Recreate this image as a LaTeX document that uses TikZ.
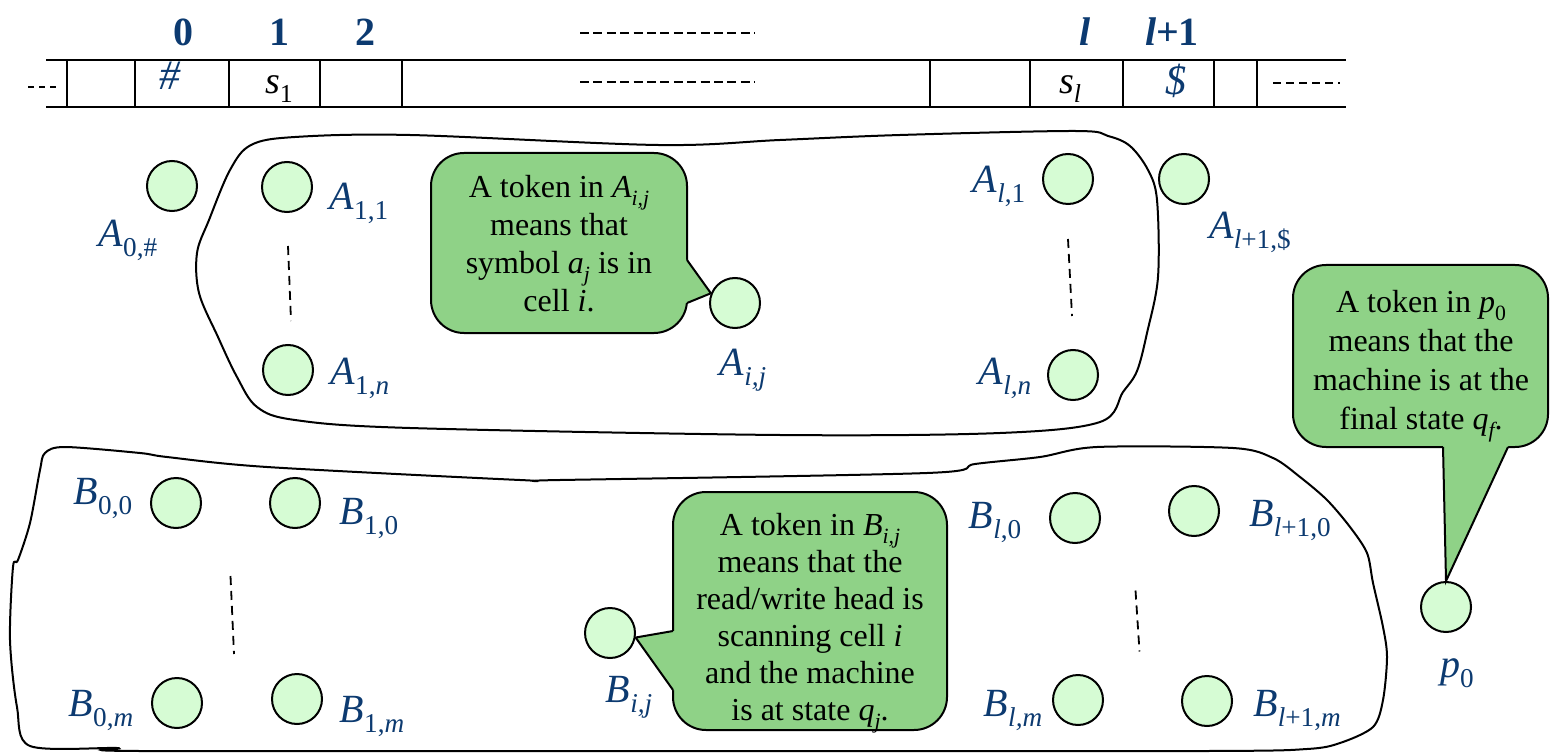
\documentclass[tikz,border=0pt]{standalone}
\usepackage{fontspec}
\setmainfont{Liberation Serif}
\usepackage{graphicx}
\usetikzlibrary{calc}

\definecolor{lblue}{RGB}{12,58,112}
\definecolor{tokfill}{RGB}{214,252,212}
\definecolor{notefill}{RGB}{143,210,135}

% lowered, reduced subscript in text mode
\newcommand{\tsb}[1]{\raisebox{-0.25em}{\scalebox{0.68}{#1}}}

\tikzset{
  tapeline/.style={line width=1.1pt, line cap=rect},
  tapedots/.style={line width=1.1pt, dash pattern=on 4.5pt off 2.2pt},
  tapenum/.style={text=lblue, font=\fontsize{20}{22}\selectfont\bfseries, inner sep=0pt},
  tapesym/.style={font=\fontsize{19}{22}\selectfont, inner sep=0pt},
  place/.style={circle, draw, fill=tokfill, line width=1pt, minimum size=25pt, inner sep=0pt},
  plabel/.style={text=lblue, font=\fontsize{20}{24}\selectfont, inner sep=0pt},
  notetext/.style={align=center, font=\fontsize{16}{19}\selectfont, inner sep=0pt},
  notebox/.style={fill=notefill, draw, line width=1pt, rounded corners=16.5pt},
  noteedge/.style={draw, line width=1pt, line join=miter},
  region/.style={draw, line width=1pt},
  colgap/.style={line width=0.9pt, dash pattern=on 4.5pt off 3pt},
}

\begin{document}
\begin{tikzpicture}[x=0.5pt,y=-0.5pt]
\useasboundingbox (0,0) rectangle (1550,753);

% ---------------- tape ----------------
\draw[tapeline] (47,60) -- (1345,60) (47,107) -- (1345,107);
\foreach \cx in {67,135,229,320,402,930,1030,1123,1214,1257}
  \draw[tapeline] (\cx,60) -- (\cx,107);
\draw[line width=1.1pt, dash pattern=on 3pt off 2.5pt] (28,87) -- (60,87);
\draw[line width=1.1pt, dash pattern=on 4pt off 2.5pt] (1273,83) -- (1340,83);
\draw[tapedots] (580,33) -- (755,33);
\draw[tapedots] (580,82) -- (755,82);

\node[tapenum] (n0) at (183,32) {0};
\node[tapenum] (n1) at (279,32) {1};
\node[tapenum] (n2) at (365,32) {2};
\node[tapenum] (nl) at (1085,32) {\itshape l};
\node[tapenum] (nl1) at (1172,32) {{\itshape l}+1};

\node[tapesym, text=lblue, font=\fontsize{21}{22}\selectfont] (hash) at (170,76) {\itshape \#};
\node[tapesym] (s1) at (279,89) {{\itshape s}\tsb{1}};
\node[tapesym] (sl) at (1070,89) {{\itshape s}\tsb{\itshape l}};
\node[tapesym, text=lblue, font=\fontsize{21}{22}\selectfont] (dollar) at (1176,81) {\itshape \$};

% ---------------- regions ----------------
\draw[region] plot[smooth cycle, tension=0.55] coordinates {
  (251,145) (295,137) (410,135) (658,145) (780,140) (900,135)
  (1075,131) (1108,136) (1130,146) (1148,170) (1157,200)
  (1158,277) (1147,333) (1137,371) (1123,392) (1100,422) (1000,433)
  (780,435) (410,428) (295,420) (257,407) (237,377) (218,337) (199,293)
  (197,253) (209,220) (230,170)};

\draw[region] plot[smooth cycle, tension=0.5] coordinates {
  (45,453) (65,447) (140,453) (167,457) (267,467) (520,480) (560,480)
  (927,473) (975,464) (1040,457) (1097,447) (1233,448)
  (1273,458) (1300,477) (1327,500) (1350,527) (1367,553) (1373,583)
  (1383,627) (1387,657) (1383,700) (1373,727) (1340,743) (1307,749)
  (1207,751) (700,751) (140,751) (117,748) (30,746) (17,707) (10,640)
  (13,567) (18,560) (30,523) (40,470)};

% ---------------- places A ----------------
\node[place] (A0) at (172,186) {};
\node[place] (A11) at (287,187) {};
\node[place] (A1n) at (288,370) {};
\node[place] (Aij) at (735,303) {};
\node[place] (Al1) at (1068,179) {};
\node[place] (Aln) at (1073,375) {};
\node[place] (Alf) at (1184,179) {};

\draw[colgap] ($(A11.south)+(1,33)$) -- ($(A1n.north)+(3,-23)$);
\draw[colgap] ($(Al1.south)+(0,34)$) -- ($(Aln.north)+(-1,-33)$);

\node[plabel] (lA0) at (128,240) {{\itshape A}\tsb{0,\#}};
\node[plabel] (lA11) at (359,203) {{\itshape A}\tsb{1,1}};
\node[plabel] (lA1n) at (360,378) {{\itshape A}\tsb{1,\itshape n}};
\node[plabel] (lAij) at (743,370) {{\itshape A}\tsb{\itshape i,j}};
\node[plabel] (lAl1) at (999,186) {{\itshape A}\tsb{{\itshape l},1}};
\node[plabel] (lAln) at (1005,378) {{\itshape A}\tsb{\itshape l,n}};
\node[plabel] (lAlf) at (1250,232) {{\itshape A}\tsb{{\itshape l}+1,\$}};

% ---------------- places B ----------------
\node[place] (B00) at (176,503) {};
\node[place] (B10) at (295,503) {};
\node[place] (B0m) at (177,703) {};
\node[place] (B1m) at (297,699) {};
\node[place] (Bl0) at (1075,518) {};
\node[place] (Blf0) at (1194,511) {};
\node[place] (Blm) at (1078,700) {};
\node[place] (Blfm) at (1207,701) {};
\node[place] (Bij) at (610,633) {};
\node[place] (p0) at (1446,607) {};

\draw[colgap] ($(B10.south)!0.5!(B00.south)+(-5,47)$) -- ($(B1m.north)!0.5!(B0m.north)+(-3,-21)$);
\draw[colgap] ($(Bl0.south)!0.5!(Blf0.south)+(1,50)$) -- ($(Blm.north)!0.5!(Blfm.north)+(-3,-23)$);

\node[plabel] (lB00) at (103,498) {{\itshape B}\tsb{0,0}};
\node[plabel] (lB10) at (369,518) {{\itshape B}\tsb{1,0}};
\node[plabel] (lB0m) at (101,710) {{\itshape B}\tsb{0,\itshape m}};
\node[plabel] (lB1m) at (372,716) {{\itshape B}\tsb{1,\itshape m}};
\node[plabel] (lBij) at (629,697) {{\itshape B}\tsb{\itshape i,j}};
\node[plabel] (lBl0) at (995,522) {{\itshape B}\tsb{{\itshape l},0}};
\node[plabel] (lBlf0) at (1290,520) {{\itshape B}\tsb{{\itshape l}+1,0}};
\node[plabel] (lBlm) at (1013,710) {{\itshape B}\tsb{\itshape l,m}};
\node[plabel] (lBlfm) at (1297,710) {{\itshape B}\tsb{{\itshape l}+1,{\itshape m}}};
\node[plabel] (lp0) at (1457,673) {{\itshape p}\tsb{0}};

% ---------------- notes ----------------
% note on A_{i,j}
\path[notebox] (431,153) rectangle (687,333);
\fill[notefill] (682,260) -- (687,260) -- (Aij.158) -- (687,303) -- (682,303) -- cycle;
\draw[noteedge] (687,260) -- (Aij.158) -- (687,303);
\node[notetext] (tA) at (559,244) {A token in {\itshape A}\tsb{\itshape i,j}\\means that\\symbol {\itshape a}\tsb{\itshape j} is in\\cell {\itshape i}.};

% note on B_{i,j}
\path[notebox] (673,492) rectangle (947,730);
\fill[notefill] (678,631) -- (673,631) -- (Bij.-10) -- (673,690) -- (678,690) -- cycle;
\draw[noteedge] (673,631) -- (Bij.-10) -- (673,690);
\node[notetext, font=\fontsize{16}{18.5}\selectfont] (tB) at (810,623) {A token in {\itshape B}\tsb{\itshape i,j}\\means that the\\read/write head is\\scanning cell {\itshape i}\\and the machine\\is at state {\itshape q}\tsb{\itshape j}.};

% note on p_0
\path[notebox] (1293,265) rectangle (1548,447);
\fill[notefill] (1443,442) -- (1443,447) -- (p0.north) -- (1508,447) -- (1508,442) -- cycle;
\draw[noteedge] (1443,447) -- (p0.north) -- (1508,447);
\node[notetext, font=\fontsize{16}{19.5}\selectfont] (tp) at (1421,366) {A token in {\itshape p}\tsb{0}\\means that the\\machine is at the\\final state {\itshape q}\tsb{\itshape f}.};

\end{tikzpicture}
\end{document}
